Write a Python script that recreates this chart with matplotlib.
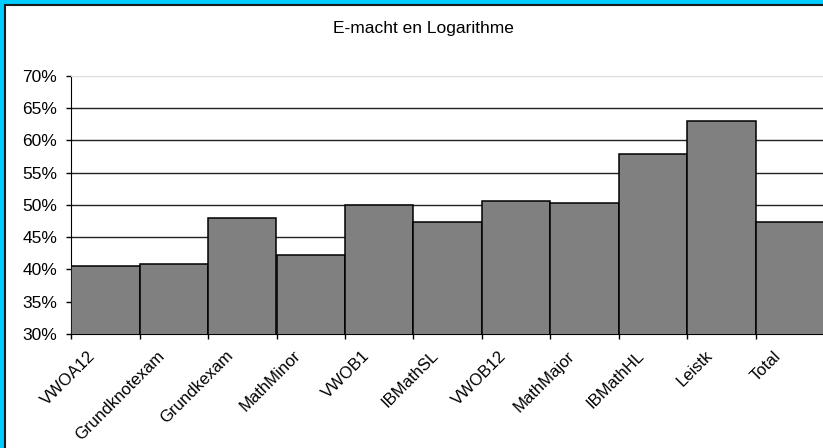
import numpy as np
import matplotlib.pyplot as plt
from matplotlib.patches import Rectangle
from matplotlib.transforms import ScaledTranslation
from matplotlib.ticker import FuncFormatter

plt.rcParams['font.family'] = ['Liberation Sans', 'DejaVu Sans']

# --- données ---
categories = ["VWOA12", "Grundknotexam", "Grundkexam", "MathMinor", "VWOB1",
              "IBMathSL", "VWOB12", "MathMajor", "IBMathHL", "Leistk", "Total"]
scores = [40.5, 40.8, 48.0, 42.2, 49.9, 47.4, 50.6, 50.3, 57.8, 63.0, 47.4]
y_ticks = [30, 35, 40, 45, 50, 55, 60, 65, 70]
title = "E-macht en Logarithme"

W, H = 823, 448
fig = plt.figure(figsize=(W / 100, H / 100), dpi=100, facecolor="#00CCFF")

# cadre blanc (bord cyan en haut / à gauche)
fig.add_artist(Rectangle((5 / W, -0.1), 1.2, (H - 5) / H + 0.1,
                         transform=fig.transFigure, facecolor="white",
                         edgecolor="#1a1a1a", lw=1.5, zorder=0))

ax = fig.add_axes([71 / W, (H - 334) / H, 753.5 / W, (334 - 75.7) / H])
ax.set_facecolor("white")

x = np.arange(len(categories))
ax.bar(x, scores, width=1.0, color="#808080", edgecolor="black", lw=1.1, zorder=3)

ax.set_xlim(-0.5, len(categories) - 0.5)
ax.set_ylim(y_ticks[0], y_ticks[-1])
ax.set_yticks(y_ticks)
ax.yaxis.set_major_formatter(FuncFormatter(lambda v, p: f"{v:.0f}%"))

# grille
ax.set_axisbelow(True)
ax.grid(axis="y", color="#222222", lw=1.0)
ax.get_ygridlines()[-1].set_color("#dddddd")

# axe x : labels au centre, graduations aux bords
ax.set_xticks(x, categories, rotation=45, ha="right", va="center",
              rotation_mode="anchor")
ax.set_xticks(np.arange(len(categories) + 1) - 0.5, minor=True)
ax.tick_params(axis="x", which="major", length=0, pad=14, labelsize=12)
ax.tick_params(axis="x", which="minor", length=3.5, width=1.0, direction="out")
ax.tick_params(axis="y", length=3.5, width=1.0, pad=6.5, labelsize=12.5)
for lab in ax.get_xticklabels():
    lab.set_transform(lab.get_transform() + ScaledTranslation(-12 / 100, 0, fig.dpi_scale_trans))

ax.spines["right"].set_visible(False)
ax.spines["top"].set_color("#dddddd")
ax.spines["left"].set_color("black")
ax.spines["bottom"].set_color("black")

fig.text(423 / W, 1 - 28 / H, title, ha="center", va="center", fontsize=12.5)

fig.savefig("out.png", dpi=100, facecolor=fig.get_facecolor())
